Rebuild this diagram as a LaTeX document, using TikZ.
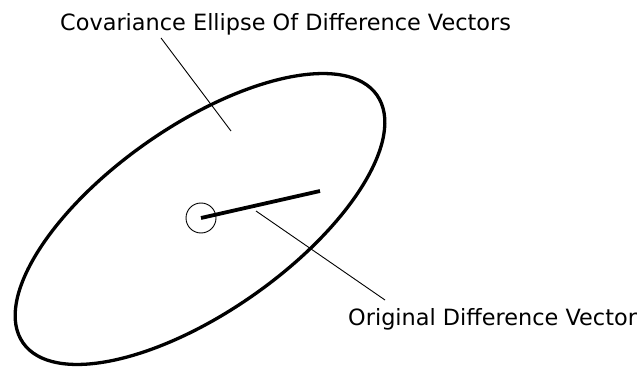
\documentclass[tikz,border=0pt]{standalone}
\usepackage{fontspec}
\setmainfont{DejaVu Sans}
\usetikzlibrary{positioning}

\begin{document}
\begin{tikzpicture}[x=1pt, y=1pt,
    every node/.style={inner sep=0pt, font=\fontsize{22.4}{26}\selectfont},
    leader/.style={line width=0.9pt, black}
]
    \useasboundingbox (0,0) rectangle (637,370);

    % Covariance ellipse
    \coordinate (centre) at (200,151);
    \draw[line width=3.3pt, rotate around={35:(centre)}] (centre) ellipse [x radius=216pt, y radius=93pt];

    % Origin and difference vector
    \node[circle, draw, line width=0.9pt, minimum size=30pt] (origin) at (201,152) {};
    \coordinate (head) at (320,179);
    \draw[line width=3.8pt] (origin.center) -- (head);

    % Labels
    \node[anchor=base west] (covlabel) at (60,339) {Covariance Ellipse Of Difference Vectors};
    \node[anchor=base west] (veclabel) at (348,45) {Original Difference Vector};

    % Leader lines
    \coordinate (covtip) at (161,332);
    \coordinate (covin) at (231,239);
    \coordinate (vecin) at (256,159);
    \coordinate (vectip) at (385,70);
    \draw[leader] (covtip) -- (covin);
    \draw[leader] (vecin) -- (vectip);

\end{tikzpicture}
\end{document}
